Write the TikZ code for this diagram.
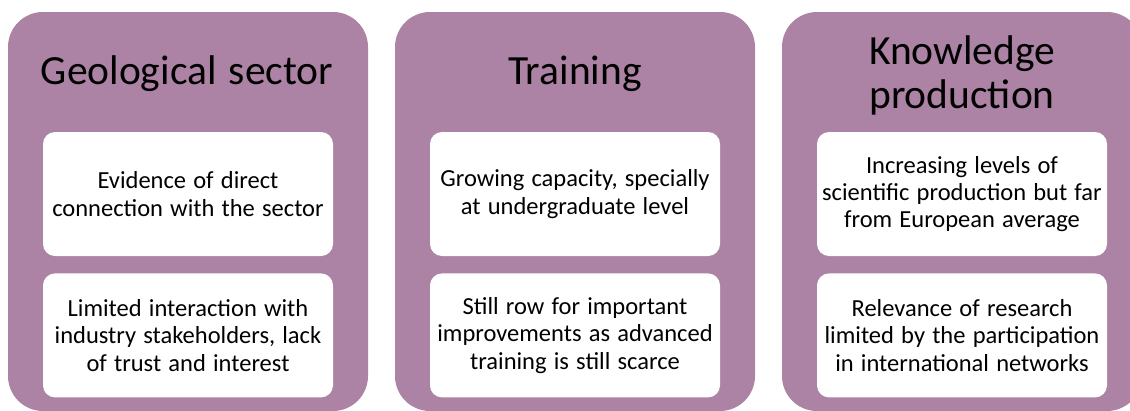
\documentclass[tikz,border=0pt]{standalone}
\usepackage{fontspec}
\setmainfont{Carlito}[WordSpace=1.3]
\usetikzlibrary{positioning}
\definecolor{panelpurple}{RGB}{172,131,164}
\tikzset{
  panel/.style={fill=panelpurple, rounded corners=35pt},
  card/.style={fill=white, rounded corners=12pt, minimum width=290pt, minimum height=124pt,
    inner sep=0pt, align=center, font=\fontsize{24.5}{27.2}\selectfont},
  heading/.style={font=\fontsize{41.5}{44}\selectfont, align=center}
}

\begin{document}
\begin{tikzpicture}[x=1pt,y=-1pt]
  \clip (0,0) rectangle (1130,410);
  % panels
  \fill[panel] (8,12) rectangle (368,411);
  \fill[panel] (395,12) rectangle (755,411);
  \fill[panel] (782,12) rectangle (1142,411);
  % titles
  \node[heading, anchor=base] (geoTitle) at (187,84) {Geological sector};
  \node[heading, anchor=base] (trainTitle) at (575,84) {Training};
  \node[heading] (knowTitle) at (962,75) {Knowledge\\production};
  % cards
  \node[card] (geoA) at (188,194) {Evidence of direct\\connection with the sector};
  \node[card, below=17pt of geoA] (geoB) {Limited interaction with\\industry stakeholders, lack\\of trust and interest};
  \node[card] (trainA) at (575,194) {Growing capacity, specially\\at undergraduate level};
  \node[card, below=17pt of trainA] (trainB) {Still row for important\\improvements as advanced\\training is still scarce};
  \node[card] (knowA) at (962,194) {Increasing levels of\\scientific production but far\\from European average};
  \node[card, below=17pt of knowA] (knowB) {Relevance of research\\limited by the participation\\in international networks};
\end{tikzpicture}
\end{document}
